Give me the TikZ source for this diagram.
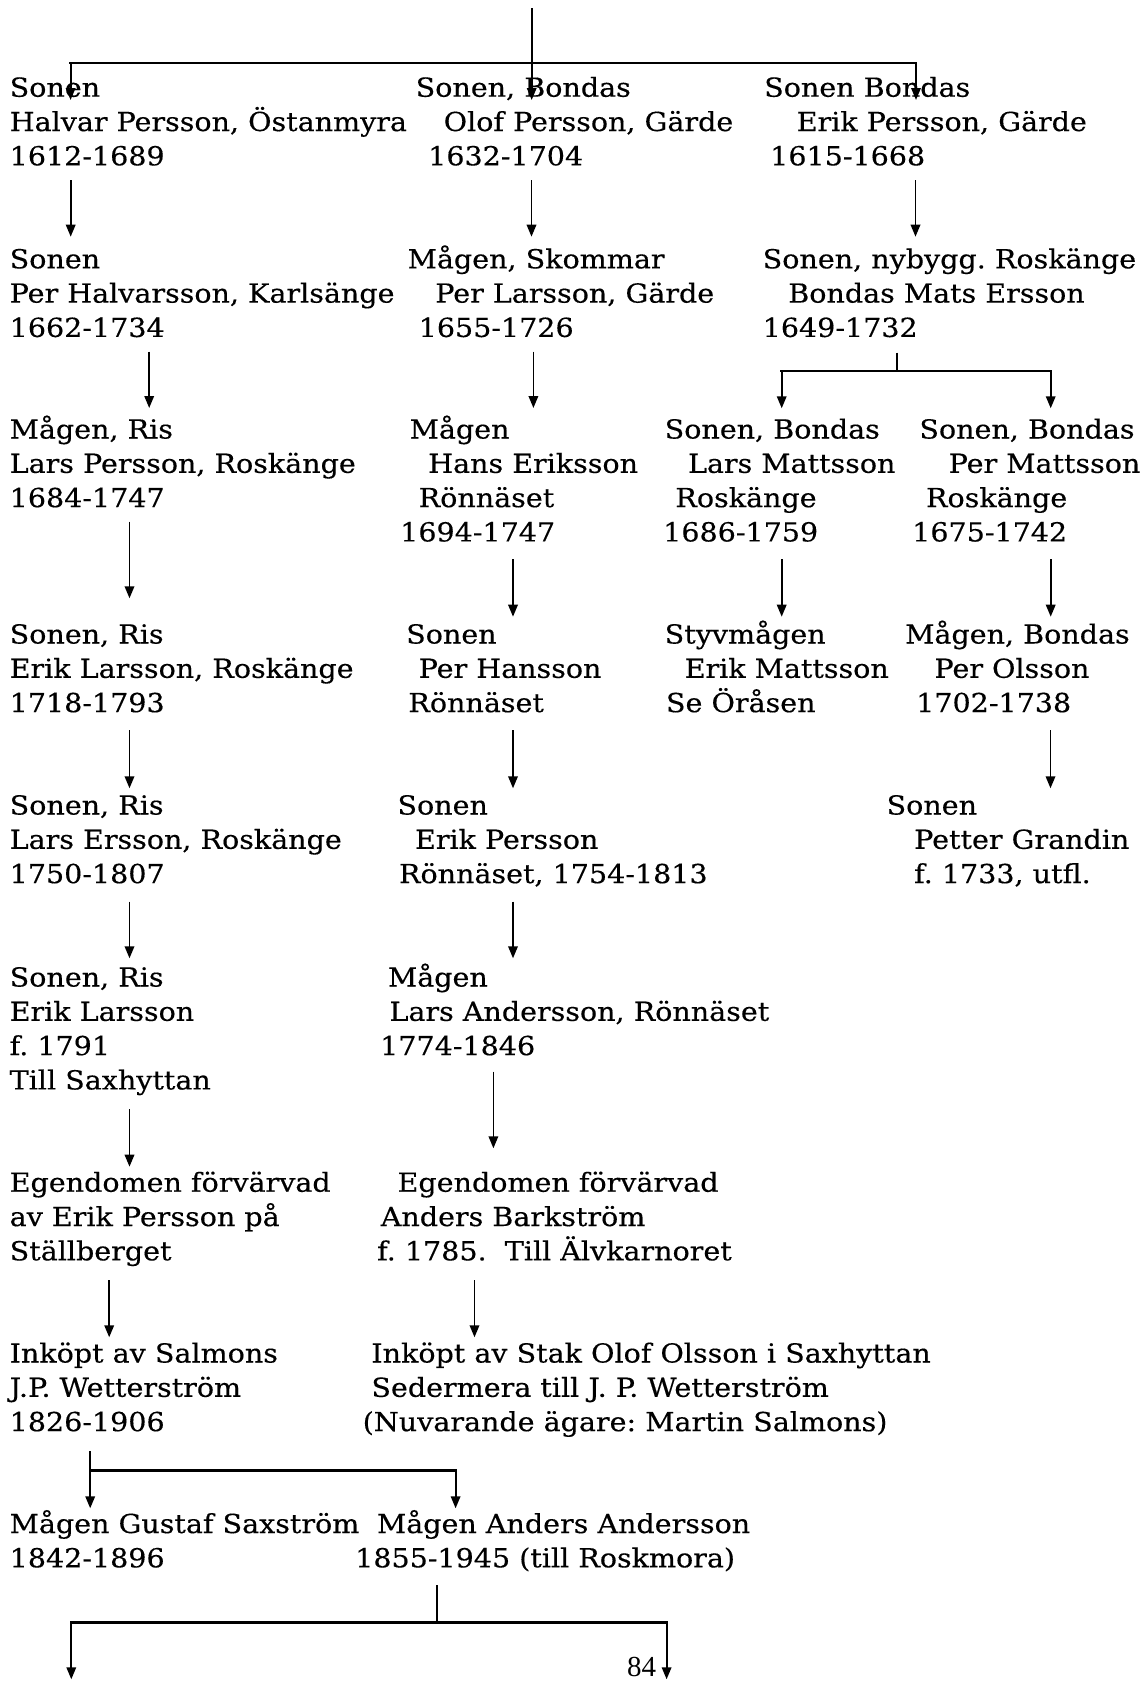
\documentclass[tikz,border=0pt]{standalone}
\usepackage{fontspec}
\setmainfont{DejaVu Serif}[FakeStretch=1.09,FakeBold=0.35]
\newfontfamily\pnfont{Liberation Serif}
\usetikzlibrary{arrows.meta,calc}
\newcommand\rows[1]{\vtop{\baselineskip=34.3pt\lineskiplimit=-200pt\lineskip=0pt\halign{##\hfil\cr#1\crcr}}}
\newcommand\ind[1]{\hspace*{#1pt}}
\frenchspacing
\begin{document}
\begin{tikzpicture}[x=1pt,y=-1pt,
  pers/.style={anchor=base west,inner sep=0pt,font=\fontsize{26.2}{34.3}\selectfont\frenchspacing},
  arr/.style={line width=1.8pt,-{Triangle[length=12pt,width=9.5pt]}},
  stub/.style={line width=1.8pt},
  bar/.style={line width=2.6pt,line cap=rect}]
\useasboundingbox[fill=white] (0,0) rectangle (1141,1681);

% ---- persons ----
\node[pers] (A1) at (9.5,96.7) {\rows{Sonen\cr Halvar Persson, Östanmyra\cr 1612-1689}};
\node[pers] (A2) at (415.5,96.7) {\rows{Sonen, Bondas\cr\ind{28}Olof Persson, Gärde\cr\ind{12.5}1632-1704}};
\node[pers] (A3) at (764,96.7) {\rows{Sonen Bondas\cr\ind{32.5}Erik Persson, Gärde\cr\ind{6}1615-1668}};

\node[pers] (B1) at (9.5,268.3) {\rows{Sonen\cr Per Halvarsson, Karlsänge\cr 1662-1734}};
\node[pers] (B2) at (407.5,268.3) {\rows{Mågen, Skommar\cr\ind{27.6}Per Larsson, Gärde\cr\ind{11}1655-1726}};
\node[pers] (B3) at (762.5,268.3) {\rows{Sonen, nybygg. Roskänge\cr\ind{25.6}Bondas Mats Ersson\cr 1649-1732}};

\node[pers] (C1) at (9.5,438.5) {\rows{Mågen, Ris\cr Lars Persson, Roskänge\cr 1684-1747}};
\node[pers] (C2) at (400,438.5) {\rows{\ind{9.5}Mågen\cr\ind{28}Hans Eriksson\cr\ind{18.5}Rönnäset\cr 1694-1747}};
\node[pers] (C3) at (663,438.5) {\rows{\ind{1.5}Sonen, Bondas\cr\ind{24.8}Lars Mattsson\cr\ind{12.2}Roskänge\cr 1686-1759}};
\node[pers] (C4) at (912,438.5) {\rows{\ind{7.2}Sonen, Bondas\cr\ind{36.5}Per Mattsson\cr\ind{13.8}Roskänge\cr 1675-1742}};

\node[pers] (D1) at (9.5,643.5) {\rows{Sonen, Ris\cr Erik Larsson, Roskänge\cr 1718-1793}};
\node[pers] (D2) at (406,643.5) {\rows{Sonen\cr\ind{12.5}Per Hansson\cr\ind{2.2}Rönnäset}};
\node[pers] (D3) at (664.5,643.5) {\rows{Styvmågen\cr\ind{20}Erik Mattsson\cr\ind{1.3}Se Öråsen}};
\node[pers] (D4) at (905,643.5) {\rows{Mågen, Bondas\cr\ind{29.3}Per Olsson\cr\ind{11}1702-1738}};

\node[pers] (E1) at (9.5,814.5) {\rows{Sonen, Ris\cr Lars Ersson, Roskänge\cr 1750-1807}};
\node[pers] (E2) at (397.3,814.5) {\rows{Sonen\cr\ind{17.5}Erik Persson\cr\ind{1.5}Rönnäset, 1754-1813}};
\node[pers] (E4) at (886.4,814.5) {\rows{Sonen\cr\ind{27.6}Petter Grandin\cr\ind{27.6}f. 1733, utfl.}};

\node[pers] (F1) at (9.5,986.5) {\rows{Sonen, Ris\cr Erik Larsson\cr f. 1791\cr Till Saxhyttan}};
\node[pers] (F2) at (380,986.5) {\rows{\ind{7.8}Mågen\cr\ind{9.3}Lars Andersson, Rönnäset\cr 1774-1846}};

\node[pers] (G1) at (9.5,1191.7) {\rows{Egendomen förvärvad\cr av Erik Persson på\cr Ställberget}};
\node[pers] (G2) at (377,1191.7) {\rows{\ind{20.4}Egendomen förvärvad\cr\ind{3.6}Anders Barkström\cr f. 1785.\ \ Till Älvkarnoret}};

\node[pers] (H1) at (9.5,1362.5) {\rows{Inköpt av Salmons\cr J.P. Wetterström\cr 1826-1906}};
\node[pers] (H2) at (362.5,1362.5) {\rows{\ind{8.7}Inköpt av Stak Olof Olsson i Saxhyttan\cr\ind{8.7}Sedermera till J. P. Wetterström\cr (Nuvarande ägare: Martin Salmons)}};

\node[pers] (I1) at (9.5,1533) {\rows{Mågen Gustaf Saxström\cr 1842-1896}};
\node[pers] (I2) at (355,1533) {\rows{\ind{21.8}Mågen Anders Andersson\cr 1855-1945 (till Roskmora)}};

\node[anchor=base west,inner sep=0pt,font=\pnfont\fontsize{29}{29}\selectfont] (pg) at (627,1676) {84};

% ---- top branch ----
\coordinate (topsrc) at (531.7,8);
\coordinate (j0) at ($(topsrc)+(0,55)$);
\coordinate (a1in) at ($(A1.base west)+(61.1,3.3)$);
\coordinate (a2in) at ($(A2.base west)+(116.2,3.3)$);
\coordinate (a3in) at ($(A3.base west)+(152,3.3)$);
\draw[bar] (a1in |- j0) -- (a3in |- j0);
\draw[arr] (topsrc) -- (a2in);
\draw[arr] (a1in |- j0) -- (a1in);
\draw[arr] (a3in |- j0) -- (a3in);

% ---- row 1 -> row 2 ----
\draw[arr] ($(A1.base west)+(61.2,83.3)$) -- ($(B1.base west)+(61.2,-31.6)$);
\draw[arr] ($(A2.base west)+(116,83.3)$) -- ($(B2.base west)+(124,-31.6)$);
\draw[arr] ($(A3.base west)+(151.5,83.3)$) -- ($(B3.base west)+(153,-31.6)$);

% ---- row 2 -> row 3 ----
\draw[arr] ($(B1.base west)+(139.7,83.4)$) -- ($(C1.base west)+(139.7,-30.5)$);
\draw[arr] ($(B2.base west)+(125.9,83.4)$) -- ($(C2.base west)+(133.4,-30.5)$);
\coordinate (j1) at ($(B3.base west)+(134.2,102.7)$);
\coordinate (c3in) at ($(C3.base west)+(118.7,-30.2)$);
\coordinate (c4in) at ($(C4.base west)+(138.7,-30.2)$);
\draw[stub] ($(B3.base west)+(134.2,84.4)$) -- (j1);
\draw[bar] (c3in |- j1) -- (c4in |- j1);
\draw[arr] (c3in |- j1) -- (c3in);
\draw[arr] (c4in |- j1) -- (c4in);

% ---- row 3 -> row 4 ----
\draw[arr] ($(C1.base west)+(120,83.2)$) -- ($(D1.base west)+(120,-45.2)$);
\draw[arr] ($(C2.base west)+(113,120.8)$) -- ($(D2.base west)+(107,-26.8)$);
\draw[arr] ($(C3.base west)+(118.7,120.8)$) -- ($(D3.base west)+(117.2,-26.8)$);
\draw[arr] ($(C4.base west)+(138.7,120.8)$) -- ($(D4.base west)+(145.7,-26.8)$);

% ---- row 4 -> row 5 ----
\draw[arr] ($(D1.base west)+(120,86.5)$) -- ($(E1.base west)+(120,-26.2)$);
\draw[arr] ($(D2.base west)+(107,86.5)$) -- ($(E2.base west)+(115.7,-26.2)$);
\draw[arr] ($(D4.base west)+(145.5,86.5)$) -- ($(E4.base west)+(164.1,-26.2)$);

% ---- row 5 -> row 6 ----
\draw[arr] ($(E1.base west)+(120,87.2)$) -- ($(F1.base west)+(120,-28.2)$);
\draw[arr] ($(E2.base west)+(115.7,87.2)$) -- ($(F2.base west)+(133,-28.2)$);

% ---- row 6 -> row 7 ----
\draw[arr] ($(F1.base west)+(120,122.8)$) -- ($(G1.base west)+(120,-25)$);
\draw[arr] ($(F2.base west)+(113.4,85.2)$) -- ($(G2.base west)+(116.4,-43.4)$);

% ---- row 7 -> row 8 ----
\draw[arr] ($(G1.base west)+(99.7,88.3)$) -- ($(H1.base west)+(99.7,-25.2)$);
\draw[arr] ($(G2.base west)+(97.5,88.3)$) -- ($(H2.base west)+(112,-25.2)$);

% ---- row 8 -> row 9 ----
\coordinate (j2) at ($(H1.base west)+(80.7,108.2)$);
\coordinate (i1in) at ($(I1.base west)+(80.7,-24.7)$);
\coordinate (i2in) at ($(I2.base west)+(100.6,-24.7)$);
\draw[stub] ($(H1.base west)+(80.7,88.5)$) -- (j2);
\draw[bar] (i1in |- j2) -- (i2in |- j2);
\draw[arr] (j2) -- (i1in);
\draw[arr] (i2in |- j2) -- (i2in);

% ---- bottom branch ----
\coordinate (j3) at ($(I2.base west)+(81.6,89.7)$);
\coordinate (bl) at (71.3,1679.3);
\coordinate (br) at (666.6,1679.3);
\draw[stub] ($(I2.base west)+(81.6,52)$) -- (j3);
\draw[bar] (bl |- j3) -- (br |- j3);
\draw[arr] (bl |- j3) -- (bl);
\draw[arr] (br |- j3) -- (br);
\end{tikzpicture}
\end{document}
